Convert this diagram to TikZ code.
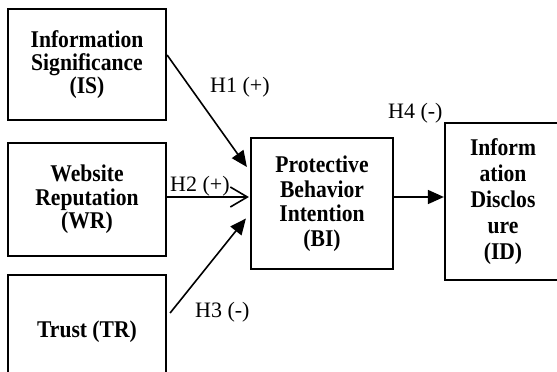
\documentclass[tikz,border=0pt]{standalone}
\usepackage{fontspec}
\setmainfont{Liberation Serif}
\newfontfamily\tallserif[FakeStretch=0.9]{Liberation Serif}
\usetikzlibrary{arrows.meta}
\begin{document}
\begin{tikzpicture}[x=1pt,y=-1pt,
  box/.style={draw,line width=2.2pt,rectangle,inner sep=0pt,align=center,
    font=\tallserif\bfseries\fontsize{24}{23.3}\selectfont},
  lbl/.style={inner sep=0pt,anchor=west,font=\fontsize{22}{22}\selectfont},
  conn/.style={line width=1.6pt},
  tri/.style={conn,-{Triangle[length=16pt,width=14pt]}},
  barb/.style={conn,-{Straight Barb[length=17pt,width=20pt,line width=1.6pt]}}]
\useasboundingbox (0,0) rectangle (557,372);
\node[box,minimum width=158pt,minimum height=111pt] (IS) at (87,64.5) {Information\\Significance\\(IS)};
\node[box,minimum width=158pt,minimum height=113pt] (WR) at (87,199.5) {Website\\Reputation\\(WR)};
\node[box,minimum width=158pt,minimum height=114pt] (TR) at (87,332) {Trust (TR)};
\node[box,minimum width=142pt,minimum height=131pt,font=\tallserif\bfseries\fontsize{24}{24.5}\selectfont] (BI) at (322,203.5) {Protective\\Behavior\\Intention\\(BI)};
\node[box,minimum width=116pt,minimum height=157pt,font=\tallserif\bfseries\fontsize{24}{26}\selectfont] (ID) at (503,201.5) {Inform\\ation\\Disclos\\ure\\(ID)};
\coordinate (isout) at ([yshift=9.5pt]IS.east);
\coordinate (isin) at ([xshift=-3pt,yshift=36.5pt]BI.west);
\coordinate (wrout) at ([yshift=2.5pt]WR.east);
\coordinate (wrin) at ([xshift=-1pt,yshift=6.5pt]BI.west);
\coordinate (trout) at ([xshift=3pt,yshift=19pt]TR.east);
\coordinate (trin) at ([xshift=-4pt,yshift=-15pt]BI.west);
\coordinate (biout) at ([yshift=6.5pt]BI.east);
\draw[tri] (isout) -- (isin);
\draw[barb] (wrout) -- (wrin);
\draw[tri] (trout) -- (trin);
\draw[tri] (biout) -- (biout -| ID.west);
\node[lbl] (h1) at (210,87) {H1 (+)};
\node[lbl] (h2) at (170,186) {H2 (+)};
\node[lbl] (h3) at (195,312) {H3 (-)};
\node[lbl] (h4) at (388,113) {H4 (-)};
\end{tikzpicture}
\end{document}
